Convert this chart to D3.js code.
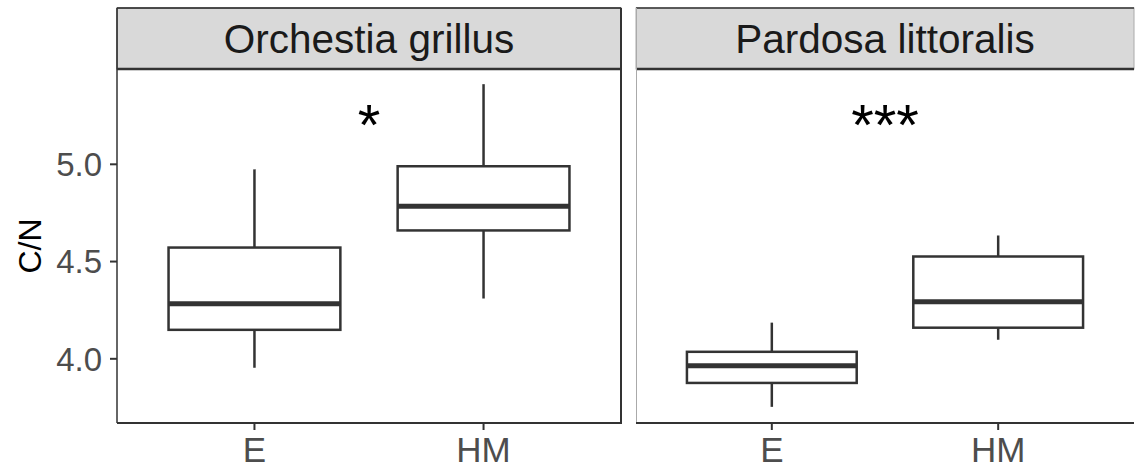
<!DOCTYPE html>
<html>
<head>
<meta charset="UTF-8">
<title>C/N boxplots</title>
<script src="https://cdn.jsdelivr.net/npm/d3@7"></script>
<style>
  body { margin: 0; background: #fff; }
  text { font-family: "Liberation Sans", Arial, sans-serif; }
</style>
</head>
<body>
<div id="chart"></div>
<script>
// data
var species = ["Orchestia grillus", "Pardosa littoralis"];
var groups = ["E", "HM"];
// [whisker low, q1, median, q3, whisker high] per group
var orchestiaStats = [[3.954, 4.149, 4.283, 4.572, 4.974], [4.31, 4.66, 4.784, 4.99, 5.412]];
var pardosaStats = [[3.753, 3.876, 3.964, 4.036, 4.186], [4.098, 4.16, 4.294, 4.526, 4.634]];
var signif = ["*", "***"];
var signifY = [5.1, 5.1];
var yTicks = [4.0, 4.5, 5.0];

var stats = [orchestiaStats, pardosaStats];

var W = 1135, H = 470;
var stripTop = 8, stripH = 61, plotTop = 69, plotBottom = 423;
var panels = [[117, 621], [636, 1134]];

var svg = d3.select("#chart").append("svg")
    .attr("width", W)
    .attr("height", H);

var y = d3.scaleLinear().domain([3.67, 5.49]).range([plotBottom, plotTop]);

species.forEach(function(sp, i) {
  var x0 = panels[i][0], x1 = panels[i][1];
  // ggplot discrete expand: 0.6 units each side
  var x = d3.scalePoint().domain(groups).range([x0, x1]).padding(0.6);
  var step = x.step();
  var bw = 0.75 * step;

  var g = svg.append("g");

  // strip
  g.append("rect")
    .attr("x", x0).attr("y", stripTop)
    .attr("width", x1 - x0).attr("height", stripH)
    .attr("fill", "#d9d9d9")
    .attr("stroke", i === 0 ? "#333333" : "#aaaaaa")
    .attr("stroke-width", 1);
  g.append("line")
    .attr("x1", x0).attr("x2", x1).attr("y1", stripTop).attr("y2", stripTop)
    .attr("stroke", "#333333").attr("stroke-width", 1.5);
  g.append("line")
    .attr("x1", x0).attr("x2", x1).attr("y1", plotTop).attr("y2", plotTop)
    .attr("stroke", "#333333").attr("stroke-width", 2.5);
  g.append("text")
    .attr("x", (x0 + x1) / 2).attr("y", stripTop + stripH / 2)
    .attr("text-anchor", "middle").attr("dy", "0.36em")
    .attr("font-size", 40.5).attr("fill", "#1a1a1a")
    .text(sp);

  // panel side lines
  if (i === 0) {
    g.append("line").attr("x1", x0).attr("x2", x0).attr("y1", stripTop).attr("y2", plotBottom)
      .attr("stroke", "#333333").attr("stroke-width", 1.5);
    g.append("line").attr("x1", x1).attr("x2", x1).attr("y1", stripTop).attr("y2", plotBottom)
      .attr("stroke", "#333333").attr("stroke-width", 2);
  } else {
    g.append("line").attr("x1", x0 + 0.5).attr("x2", x0 + 0.5).attr("y1", stripTop).attr("y2", plotBottom)
      .attr("stroke", "#aaaaaa").attr("stroke-width", 1);
  }

  // bottom axis
  var xa = g.append("g").attr("transform", "translate(0," + plotBottom + ")");
  xa.append("line").attr("x1", x0).attr("x2", x1 + (i === 0 ? 1 : 0))
    .attr("stroke", "#333333").attr("stroke-width", 2);
  groups.forEach(function(gr) {
    xa.append("line").attr("x1", x(gr)).attr("x2", x(gr)).attr("y1", 0).attr("y2", 7)
      .attr("stroke", "#333333").attr("stroke-width", 2);
    xa.append("text").attr("x", x(gr)).attr("y", 39)
      .attr("text-anchor", "middle").attr("font-size", 35).attr("fill", "#4d4d4d")
      .text(gr);
  });

  // boxes
  groups.forEach(function(gr, j) {
    var s = stats[i][j];
    var cx = x(gr);
    var b = g.append("g").attr("stroke", "#333333").attr("fill", "#ffffff");
    b.append("line").attr("x1", cx).attr("x2", cx).attr("y1", y(s[4])).attr("y2", y(s[3]))
      .attr("stroke-width", 2.5);
    b.append("line").attr("x1", cx).attr("x2", cx).attr("y1", y(s[1])).attr("y2", y(s[0]))
      .attr("stroke-width", 2.5);
    b.append("rect").attr("x", cx - bw / 2).attr("y", y(s[3]))
      .attr("width", bw).attr("height", y(s[1]) - y(s[3]))
      .attr("stroke-width", 2.5);
    b.append("line").attr("x1", cx - bw / 2).attr("x2", cx + bw / 2)
      .attr("y1", y(s[2])).attr("y2", y(s[2]))
      .attr("stroke-width", 5);
  });

  // significance
  g.append("text")
    .attr("x", (x(groups[0]) + x(groups[1])) / 2)
    .attr("y", y(signifY[i]))
    .attr("text-anchor", "middle").attr("font-size", 58).attr("fill", "#000")
    .text(signif[i]);
});

// y axis
var ya = svg.append("g").attr("transform", "translate(" + panels[0][0] + ",0)");
yTicks.forEach(function(t) {
  ya.append("line").attr("x1", -7).attr("x2", 0).attr("y1", y(t)).attr("y2", y(t))
    .attr("stroke", "#333333").attr("stroke-width", 2);
  ya.append("text").attr("x", -15).attr("y", y(t)).attr("dy", "0.36em")
    .attr("text-anchor", "end").attr("font-size", 33).attr("fill", "#4d4d4d")
    .text(d3.format(".1f")(t));
});

svg.append("text")
  .attr("transform", "translate(41," + ((plotTop + plotBottom) / 2) + ") rotate(-90)")
  .attr("text-anchor", "middle").attr("font-size", 32).attr("fill", "#000")
  .text("C/N");
</script>
</body>
</html>
